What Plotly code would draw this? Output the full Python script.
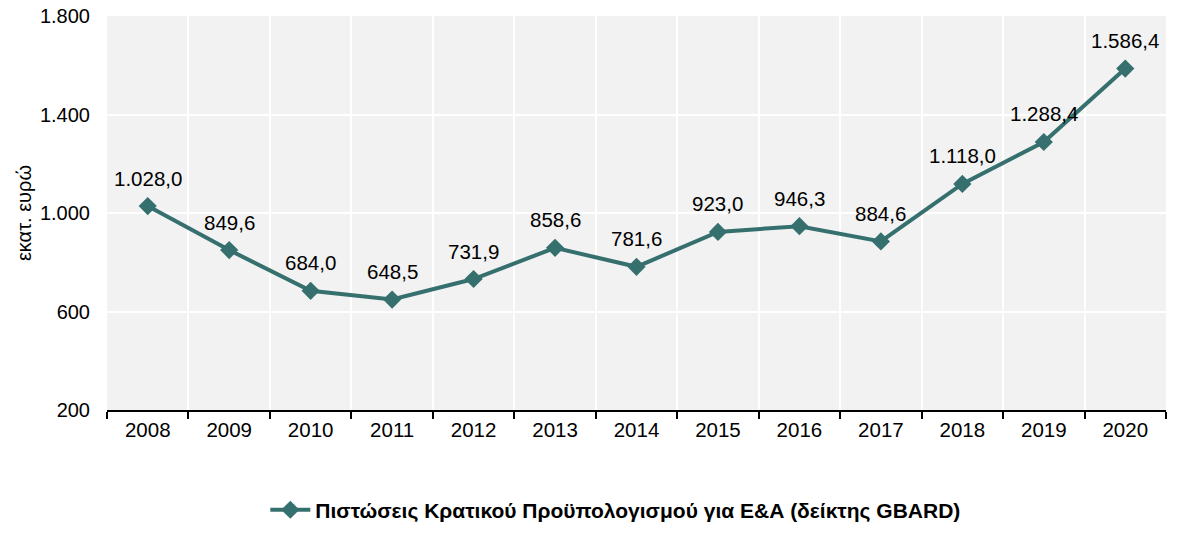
import plotly.graph_objects as go

years = ["2008", "2009", "2010", "2011", "2012", "2013", "2014",
         "2015", "2016", "2017", "2018", "2019", "2020"]
gbard = [1028.0, 849.6, 684.0, 648.5, 731.9, 858.6, 781.6,
         923.0, 946.3, 884.6, 1118.0, 1288.4, 1586.4]
y_ticks = [200, 600, 1000, 1400, 1800]
series_name = "Πιστώσεις Κρατικού Προϋπολογισμού για Ε&Α (δείκτης GBARD)"


def gr(v):
    return f"{v:,.1f}".replace(",", "X").replace(".", ",").replace("X", ".")


color = "#35706f"
FONT = "Arial, Liberation Sans"
fig = go.Figure()
fig.add_trace(go.Scatter(
    x=years, y=gbard, name=series_name,
    mode="lines+markers",
    line=dict(color=color, width=4),
    marker=dict(symbol="diamond", size=14, color=color),
    cliponaxis=False,
))
for i, v in enumerate(gbard):
    fig.add_annotation(x=i, y=v, text=gr(v), showarrow=False, yshift=28,
                       font=dict(family=FONT, size=20.5, color="black"))
fig.update_layout(
    width=1182, height=543,
    margin=dict(l=107, r=16, t=16, b=133),
    paper_bgcolor="white", plot_bgcolor="#f2f2f2",
    separators=",.",
    font=dict(family=FONT, size=20, color="black"),
    showlegend=True,
    legend=dict(orientation="h", x=0.48, xanchor="center", y=-0.254, yanchor="middle",
                font=dict(size=21, family=FONT, weight="bold"),
                itemwidth=40),
)
fig.update_xaxes(type="category", range=[-0.5, 12.5], tickson="boundaries", ticks="outside", ticklen=7,
                 tickcolor="black", tickwidth=2, showline=True, linecolor="black", linewidth=2,
                 showgrid=True, gridcolor="white", gridwidth=2, automargin=False,
                 tickfont=dict(size=20.5))
fig.update_yaxes(range=[200, 1800], tickvals=y_ticks, tickformat=",d",
                 showgrid=True, gridcolor="white", gridwidth=2, zeroline=False,
                 showline=False, ticks="", ticklabelstandoff=16, automargin=False,
                 title=dict(text="εκατ. ευρώ", font=dict(size=20), standoff=2),
                 tickfont=dict(size=20))
fig.write_html("out.html", config={"displayModeBar": False},
               post_script="document.body.style.margin='0px';")
